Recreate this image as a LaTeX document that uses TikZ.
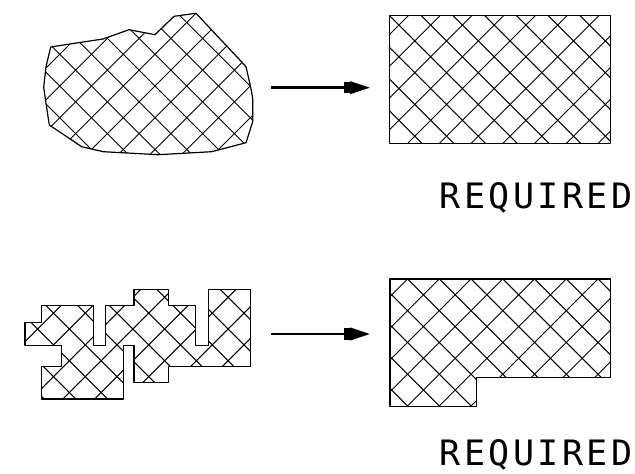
\documentclass[tikz,border=0pt]{standalone}
\usepackage{fontspec}
\setmainfont{DejaVu Sans Mono}
\usetikzlibrary{arrows.meta}
\newcommand\hatchlines[2]{%
  \foreach \k in {-20,...,20}{%
    \pgfmathsetmacro\cc{#1+\k*31.75}%
    \pgfmathsetmacro\dd{#2+\k*31.75}%
    \draw[hatch] (\cc+500,-500) -- (\cc-500,500);
    \draw[hatch] (\dd-500,-500) -- (\dd+500,500);
  }}
\newcommand\shapeA{(50.7,47) -- (68,44.3) -- (103,39) -- (129,29.7) -- (155,34.7) -- (174,16.3) -- (196,13.3) -- (241.7,62) -- (246,66.7) -- (250.7,87.3) -- (252.7,98.3) -- (252.7,121.7) -- (246,142.7) -- (211.7,151.7) -- (158.3,154.7) -- (103.3,151.7) -- (81.7,146.7) -- (49.3,125) -- (46,103.3) -- (43.7,87.3) -- (46,66.7) -- cycle}
\newcommand\shapeB{(389.3,15.3) -- (610.7,15.3) -- (610.7,143.3) -- (389.3,143.3) -- cycle}
\newcommand\shapeC{(25,322.3) -- (41.7,322.3) -- (41.7,305.3) -- (93.3,305.3) -- (93.3,345.3) -- (105.7,345.3) -- (105.7,305.3) -- (134,305.3) -- (134,289.3) -- (168.3,289.3) -- (168.3,305.3) -- (195.7,305.3) -- (195.7,345.3) -- (208.3,345.3) -- (208.3,289.3) -- (250.7,289.3) -- (250.7,366.3) -- (168.3,366.3) -- (168.3,382.3) -- (134,382.3) -- (134,345.3) -- (123.3,345.3) -- (123.3,399) -- (41.7,399) -- (41.7,366.3) -- (61.7,366.3) -- (61.7,345.3) -- (25,345.3) -- cycle}
\newcommand\shapeD{(390,279) -- (610.3,279) -- (610.3,377.7) -- (476.7,377.7) -- (476.7,406.7) -- (390,406.7) -- cycle}
\begin{document}
\begin{tikzpicture}[x=1pt,y=-1pt,
  hatch/.style={black,line width=1pt},
  outline/.style={black,line width=1.2pt,line join=round},
  flow/.style={black,line width=2.5pt,-{Rectangle[length=6pt,width=11.5pt]Triangle[length=20pt,width=12.5pt]}},
  lbl/.style={inner sep=0pt,font=\fontsize{35}{35}\selectfont\addfontfeatures{LetterSpace=10}}]
\useasboundingbox (0,0) rectangle (635,474);
\fill[white] (0,0) rectangle (635,474);
\begin{scope}\clip \shapeA; \hatchlines{241}{69} \end{scope}
\draw[outline] \shapeA;
\begin{scope}\clip \shapeB; \hatchlines{551}{405.6} \end{scope}
\draw[outline] \shapeB;
\begin{scope}\clip \shapeC; \hatchlines{398.3}{-259.7} \end{scope}
\draw[outline] \shapeC;
\begin{scope}\clip \shapeD; \hatchlines{781.7}{160.3} \end{scope}
\draw[outline] \shapeD;
\coordinate (a1) at (271,87.7);
\coordinate (a2) at (370,87.7);
\coordinate (b1) at (271,334);
\coordinate (b2) at (370,334);
\draw[flow] (a1) -- (a2);
\draw[flow] (b1) -- (b2);
\node[lbl] (req1) at (536,198) {REQUIRED};
\node[lbl] (req2) at (536,455) {REQUIRED};
\end{tikzpicture}
\end{document}
